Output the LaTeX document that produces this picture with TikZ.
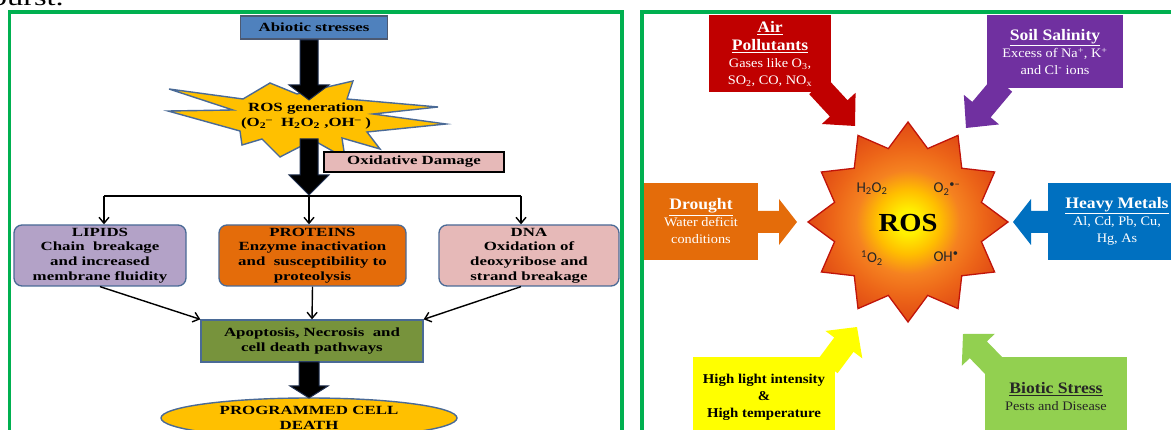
\documentclass[tikz,border=0pt]{standalone}
\usepackage{fontspec}
\setmainfont{Liberation Serif}
\newfontfamily\lfnt[FakeStretch=1.35]{Liberation Serif}
\newfontfamily\rfnt[FakeStretch=1.1]{Liberation Serif}
\newfontfamily\cfnt{Carlito}
\usetikzlibrary{arrows.meta,shapes.geometric,calc}

\definecolor{frame}{HTML}{00B050}
\definecolor{abiob}{HTML}{4F81BD}
\definecolor{boxline}{HTML}{4A6A96}
\definecolor{starY}{HTML}{FFC000}
\definecolor{pinkb}{HTML}{E6B9B8}
\definecolor{lilac}{HTML}{B3A2C7}
\definecolor{orgb}{HTML}{E46C0A}
\definecolor{oliveb}{HTML}{77933C}
\definecolor{navyline}{HTML}{1F2F4F}
\definecolor{airR}{HTML}{C00000}
\definecolor{soilP}{HTML}{7030A0}
\definecolor{drO}{HTML}{E46C0A}
\definecolor{hmB}{HTML}{0070C0}
\definecolor{hlY}{HTML}{FFFF00}
\definecolor{bsG}{HTML}{92D050}
\definecolor{rosline}{HTML}{C0140A}
\definecolor{rY}{HTML}{FFF000}
\definecolor{rY2}{HTML}{FFBE00}
\definecolor{rO}{HTML}{F58220}
\definecolor{rO2}{HTML}{EC6418}
\definecolor{rR}{HTML}{E04A14}
\pgfdeclareradialshading{rosgrad}{\pgfpoint{0bp}{0bp}}{color(0bp)=(rY); color(3bp)=(rY); color(8bp)=(rY2); color(13bp)=(rO); color(19bp)=(rO2); color(25bp)=(rR); color(50bp)=(rR)}

\newcommand\rhead{\bfseries\fontsize{16}{19}\selectfont}

% block arrow: [style]{from}{to}{shaft width}{head width}{head length}
\newcommand\blockarrow[6][]{%
  \path let \p1=(#2), \p2=(#3), \n1={atan2(\y2-\y1,\x2-\x1)}, \n2={veclen(\x2-\x1,\y2-\y1)} in
    \pgfextra{\xdef\baang{\n1}\xdef\balen{\n2}};
  \begin{scope}[shift={(#2)}, rotate=\baang]
    \path[#1] (0,-#4/2) -- (\balen-#6,-#4/2) -- (\balen-#6,-#5/2) -- (\balen,0)
      -- (\balen-#6,#5/2) -- (\balen-#6,#4/2) -- (0,#4/2) -- cycle;
  \end{scope}}

\tikzset{
  lbox/.style={draw=boxline, line width=1.3pt, rounded corners=8pt, inner sep=0pt, align=center,
    font=\lfnt\bfseries\fontsize{12.5}{14.7}\selectfont, text=black},
  blk/.style={fill=black, draw=navyline, line width=1pt},
  conn/.style={line width=1.4pt, -{Straight Barb[length=6pt,width=10pt]}},
  rbox/.style={inner sep=0pt, align=center, font=\rfnt\fontsize{13}{17}\selectfont},
  roslab/.style={font=\cfnt\fontsize{15}{15}\selectfont, text=black!85},
  frm/.style={draw=frame, line width=3.5pt}
}

\begin{document}
\begin{tikzpicture}[x=1pt,y=-1pt]
\useasboundingbox (0,0) rectangle (1171,430);

% cut-off caption fragment and frames
\node[anchor=base east, inner sep=0, font=\lfnt\fontsize{24}{24}\selectfont] (frag) at (64,6) {burst.};
\draw[frm] (9.5,12) rectangle (622,450);
\draw[frm] (642,12) rectangle (1190,450);

% ================= LEFT PANEL =================
\node[lbox, rounded corners=0pt, fill=abiob, draw=navyline!80, minimum width=147pt, minimum height=23pt] (abio) at (314,27.5) {Abiotic stresses};

\draw[fill=starY, draw=boxline, line width=1.4pt]
  (169,89) -- (243,99) -- (270,83) -- (297,94) -- (353,81) -- (347,99) -- (438,107) -- (373,114)
  -- (446,124) -- (367,132) -- (380,149) -- (342,138) -- (345,158) -- (313,140) -- (280,157)
  -- (262,139) -- (242,145) -- (240,131) -- (168,111) -- (233,110) -- cycle;

\coordinate (a1s) at (309,40);
\coordinate (a1e) at (309,100);
\blockarrow[blk]{a1s}{a1e}{18}{40}{15}

\node[inner sep=0pt, align=center, font=\lfnt\bfseries\fontsize{12.5}{15}\selectfont] (rosgen) at (306,116)
  {ROS generation\\(O\textsubscript{2}\textsuperscript{–}~~H\textsubscript{2}O\textsubscript{2} ,OH\textsuperscript{–} )};

\coordinate (a2s) at (309,139);
\coordinate (a2e) at (309,195);
\blockarrow[blk]{a2s}{a2e}{18}{40}{20}

\node[fill=pinkb, draw=black, line width=1.8pt, minimum width=180pt, minimum height=20pt, inner sep=0pt,
  font=\lfnt\bfseries\fontsize{12.5}{14}\selectfont] (oxd) at (414,162) {Oxidative Damage};

\node[lbox, fill=lilac, minimum width=172pt, minimum height=61pt] (lip) at (100,255.5)
  {LIPIDS\\Chain~ breakage\\and increased\\membrane fluidity};
\node[lbox, fill=orgb, minimum width=187pt, minimum height=61pt] (pro) at (312.5,255.5)
  {PROTEINS\\Enzyme inactivation\\and~ susceptibility to\\proteolysis};
\node[lbox, fill=pinkb, minimum width=180pt, minimum height=61pt] (dna) at (529,255.5)
  {DNA\\Oxidation of\\deoxyribose and\\strand breakage};

\coordinate (hl) at (104,196);
\coordinate (hm) at (309,196);
\coordinate (hr) at (521,196);
\draw[line width=1.4pt] (hl) -- (hr);
\draw[conn] (hl) -- (hl |- lip.north);
\draw[conn] (hm) -- (hm |- pro.north);
\draw[conn] (hr) -- (hr |- dna.north);

\node[lbox, rounded corners=0pt, fill=oliveb, minimum width=222pt, minimum height=42pt] (apo) at (312,341)
  {Apoptosis, Necrosis~ and\\cell death pathways};

\draw[conn] (lip.south) -- (apo.north west);
\draw[conn] (pro.south) -- (apo.north);
\draw[conn] ([xshift=-8pt]dna.south) -- (apo.north east);

\node[ellipse, draw=boxline, line width=1.4pt, fill=starY, minimum width=296pt, minimum height=40pt, inner sep=0pt,
  align=center, font=\lfnt\bfseries\fontsize{12.5}{15}\selectfont] (pcd) at (309,418) {PROGRAMMED CELL\\DEATH};

\coordinate (a3s) at (309,362);
\coordinate (a3e) at (309,398);
\blockarrow[blk]{a3s}{a3e}{20}{38}{12}

% ================= RIGHT PANEL =================
\shadedraw[shading=rosgrad, draw=rosline, line width=1.3pt]
  plot[samples at={0,1,...,23}, variable=\k]
  ({908+(88+12*cos(180*\k))*cos(15*\k)}, {222-(88+12*cos(180*\k))*sin(15*\k)}) -- cycle;

\node[roslab] (h2o2) at (872,189) {H\textsubscript{2}O\textsubscript{2}};
\node[roslab] (o2r) at (947,189) {O\textsubscript{2}\textsuperscript{\textbullet–}};
\node[roslab] (singo) at (872,258) {\textsuperscript{1}O\textsubscript{2}};
\node[roslab] (ohr) at (946,257) {OH\textsuperscript{\textbullet}};
\node[font=\rfnt\bfseries\fontsize{26}{26}\selectfont] (ros) at (908,223) {ROS};

% Air pollutants
\coordinate (airA) at (818,86);
\coordinate (airB) at (855,126);
\blockarrow[fill=airR]{airA}{airB}{24}{46}{24}
\node[rbox, fill=airR, text=white, minimum width=122pt, minimum height=77pt] (air) at (770,54)
  {{\rhead\underline{Air}}\\[1pt]{\rhead\underline{Pollutants}}\\Gases like O\textsubscript{3},\\SO\textsubscript{2}, CO, NO\textsubscript{x}};

% Soil salinity
\coordinate (soilA) at (1003,84);
\coordinate (soilB) at (966,128);
\blockarrow[fill=soilP]{soilA}{soilB}{24}{46}{24}
\node[rbox, fill=soilP, text=white, minimum width=136pt, minimum height=73pt] (soil) at (1055,52)
  {{\rhead\underline{Soil Salinity}}\\Excess of Na\textsuperscript{+}, K\textsuperscript{+}\\and Cl\textsuperscript{-} ions};

% Drought
\coordinate (drA) at (752,222);
\coordinate (drB) at (797,222);
\blockarrow[fill=drO]{drA}{drB}{22}{46}{18}
\node[rbox, fill=drO, text=white, minimum width=114pt, minimum height=77pt] (dro) at (701,221.5)
  {{\rhead\underline{Drought}}\\Water deficit\\conditions};

% Heavy metals
\coordinate (hmA) at (1056,222);
\coordinate (hmB) at (1013,222);
\blockarrow[fill=hmB]{hmA}{hmB}{22}{46}{18}
\node[rbox, fill=hmB, text=white, minimum width=138pt, minimum height=77pt] (hvy) at (1117,221.5)
  {{\rhead\underline{Heavy Metals}}\\Al, Cd, Pb, Cu,\\Hg, As};

% High light
\coordinate (hlA) at (828,366);
\coordinate (hlB) at (857,327);
\blockarrow[fill=hlY]{hlA}{hlB}{24}{46}{22}
\node[rbox, fill=hlY, text=black, minimum width=142pt, minimum height=80pt, font=\rfnt\bfseries\fontsize{13.5}{17}\selectfont] (hlt) at (764,397)
  {High light intensity\\\&\\High temperature};

% Biotic stress
\coordinate (bsA) at (996,368);
\coordinate (bsB) at (963,334);
\blockarrow[fill=bsG]{bsA}{bsB}{24}{46}{22}
\node[rbox, fill=bsG, text=black!85, minimum width=142pt, minimum height=80pt] (bio) at (1056,397)
  {{\rhead\underline{Biotic Stress}}\\Pests and Disease};

\end{tikzpicture}
\end{document}
